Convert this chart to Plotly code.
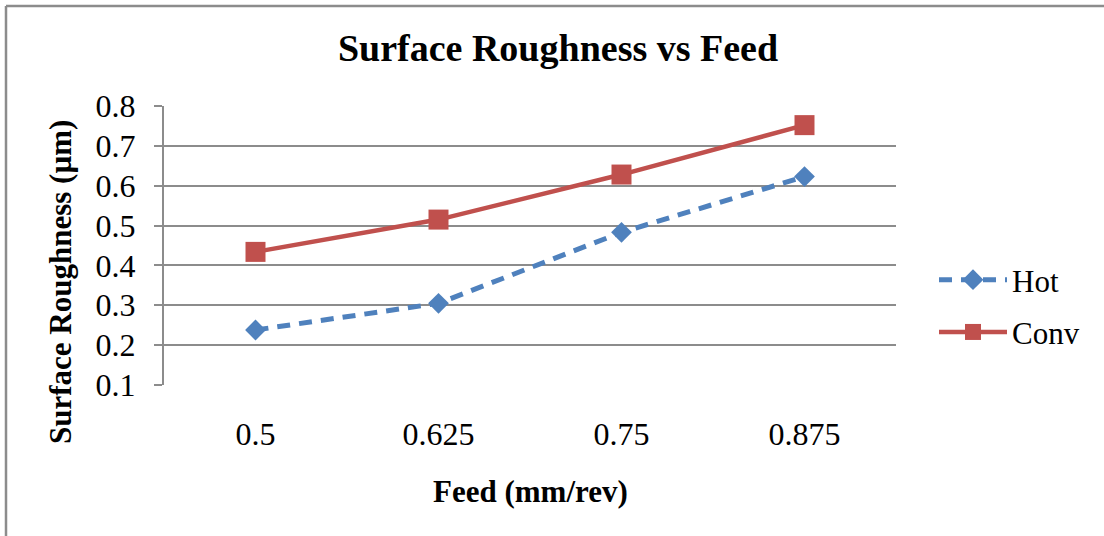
import plotly.graph_objects as go

# Feed rates (mm/rev) shown as categories on the x axis
feed = ["0.5", "0.625", "0.75", "0.875"]
# Surface roughness (µm) for each cooling condition
hot = [0.238, 0.305, 0.483, 0.623]
conv = [0.434, 0.515, 0.628, 0.752]
y_ticks = [0.1, 0.2, 0.3, 0.4, 0.5, 0.6, 0.7, 0.8]

SERIF = "Liberation Serif, Times New Roman, serif"
GRID = "#8c8c8c"

fig = go.Figure()
fig.add_trace(go.Scatter(
    x=feed, y=hot, name="Hot", mode="lines+markers", legendgroup="hot",
    line=dict(color="#4F81BD", width=5, dash="13px,9px"),
    marker=dict(symbol="diamond", size=16, color="#4F81BD"),
))
fig.add_trace(go.Scatter(
    x=feed, y=conv, name="Conv", mode="lines+markers", legendgroup="conv",
    line=dict(color="#C0504D", width=4.5),
    marker=dict(symbol="square", size=20, color="#C0504D"),
))

L, R, T, B = 164, 208, 106, 151
W, H = 1104, 536
pw, ph = W - L - R, H - T - B

# outer chart frame: only the top and left edges fall inside the page
frame_left = -(L - 6) / pw
frame_top = 1 + (T - 6) / ph

fig.update_layout(
    width=W, height=H,
    margin=dict(l=L, r=R, t=T, b=B),
    paper_bgcolor="white", plot_bgcolor="white",
    font=dict(family=SERIF, color="black", size=32),
    title=dict(
        text="<b>Surface Roughness vs Feed</b>",
        x=558 / W, xref="container", xanchor="center",
        y=1 - 48 / H, yref="container", yanchor="middle",
        font=dict(family=SERIF, size=38, color="black"),
    ),
    xaxis=dict(
        type="category", categoryorder="array", categoryarray=feed,
        range=[-0.5, 3.5], showgrid=False, showline=False, zeroline=False,
        ticks="", tickfont=dict(size=32), ticklabelstandoff=27,
    ),
    yaxis=dict(
        range=[0.1, 0.8], tickvals=y_ticks, tickformat=".1f",
        showgrid=True, gridcolor=GRID, gridwidth=2,
        showline=True, linecolor=GRID, linewidth=2,
        ticks="outside", ticklen=8, tickcolor=GRID, tickwidth=2,
        tickfont=dict(size=32), ticklabelstandoff=12, zeroline=False,
    ),
    legend=dict(
        x=(934 - L) / pw, xanchor="left",
        y=(385 - 306) / ph, yanchor="middle",
        font=dict(family=SERIF, size=31, color="black"),
        itemwidth=68, traceorder="grouped", tracegroupgap=9,
        bgcolor="rgba(0,0,0,0)",
    ),
    showlegend=True,
    annotations=[
        dict(text="<b>Feed (mm/rev)</b>", xref="paper", yref="paper",
             x=0.5, y=-(491 - 385) / ph, xanchor="center", yanchor="middle",
             showarrow=False, font=dict(family=SERIF, size=31, color="black")),
        dict(text="<b>Surface Roughness (µm)</b>", xref="paper", yref="paper",
             x=-(164 - 60) / pw, y=(385 - 282) / ph, xanchor="center", yanchor="middle",
             textangle=-90, showarrow=False,
             font=dict(family=SERIF, size=31, color="black")),
    ],
    shapes=[
        dict(type="line", xref="paper", yref="paper",
             x0=frame_left, x1=1.0 + R / pw, y0=frame_top, y1=frame_top,
             line=dict(color="#8c8c8c", width=2.5), layer="below"),
        dict(type="line", xref="paper", yref="paper",
             x0=frame_left, x1=frame_left, y0=frame_top, y1=-B / ph,
             line=dict(color="#8c8c8c", width=2.5), layer="below"),
    ],
)

fig.write_html("out.html", config={"displayModeBar": False})
